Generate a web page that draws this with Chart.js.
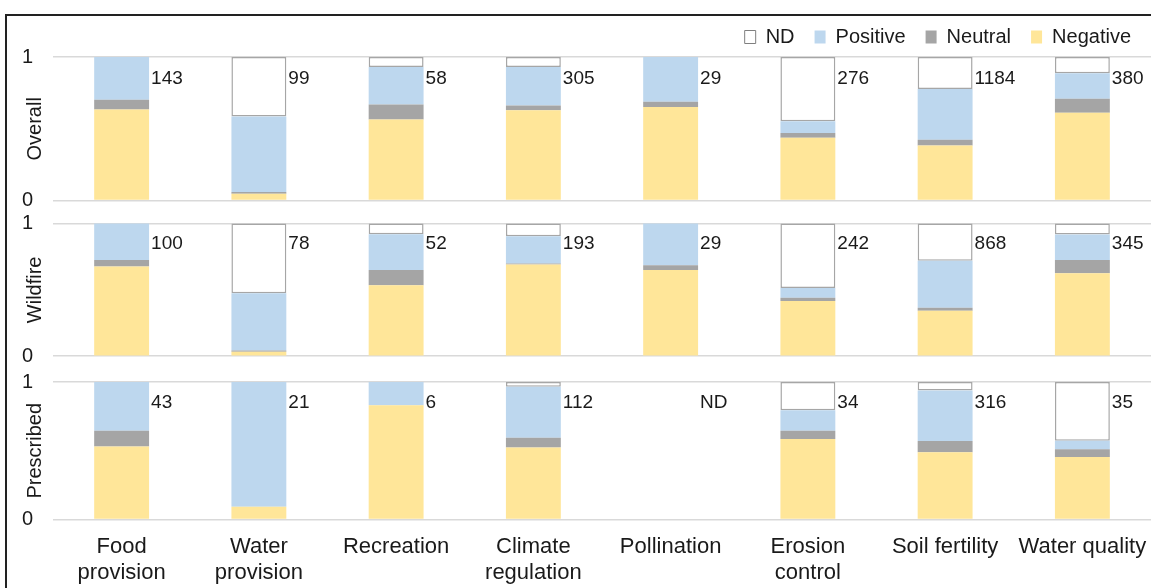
<!DOCTYPE html>
<html>
<head>
<meta charset="utf-8">
<script src="https://cdn.jsdelivr.net/npm/chart.js@4.4.1/dist/chart.umd.min.js"></script>
<style>
  html, body { margin: 0; padding: 0; background: #fff; overflow: hidden; }
  #frame { position: absolute; left: 5px; top: 14px; width: 1200px; height: 640px; border: 2px solid #222; }
  #wrap { position: absolute; left: 0; top: 0; width: 1151px; height: 588px; }
</style>
</head>
<body>
<div id="frame"></div>
<div id="wrap"><canvas id="chart"></canvas></div>
<script>
const categories = [['Food', 'provision'], ['Water', 'provision'], 'Recreation', ['Climate', 'regulation'],
  'Pollination', ['Erosion', 'control'], 'Soil fertility', 'Water quality'];

const seriesNames = ['Negative', 'Neutral', 'Positive', 'ND'];
const seriesColors = ['#FFE699', '#A5A5A5', '#BDD7EE', '#FFFFFF'];

// share of studies per category (0..1)
const overallNegative = [0.635, 0.047, 0.565, 0.630, 0.651, 0.437, 0.384, 0.612];
const overallNeutral  = [0.067, 0.013, 0.105, 0.033, 0.037, 0.033, 0.039, 0.097];
const overallPositive = [0.298, 0.526, 0.260, 0.267, 0.312, 0.083, 0.354, 0.177];
const overallND       = [0, 0.414, 0.070, 0.070, 0, 0.447, 0.223, 0.114];
const overallCounts   = ['143', '99', '58', '305', '29', '276', '1184', '380'];

const wildfireNegative = [0.675, 0.033, 0.534, 0.690, 0.650, 0.416, 0.343, 0.625];
const wildfireNeutral  = [0.050, 0.010, 0.116, 0.008, 0.035, 0.025, 0.022, 0.100];
const wildfirePositive = [0.275, 0.431, 0.269, 0.206, 0.315, 0.073, 0.355, 0.192];
const wildfireND       = [0, 0.526, 0.081, 0.096, 0, 0.486, 0.280, 0.083];
const wildfireCounts   = ['100', '78', '52', '193', '29', '242', '868', '345'];

const prescribedNegative = [0.532, 0.093, 0.832, 0.524, 0, 0.585, 0.490, 0.454];
const prescribedNeutral  = [0.114, 0, 0, 0.071, 0, 0.061, 0.081, 0.058];
const prescribedPositive = [0.354, 0.907, 0.168, 0.371, 0, 0.149, 0.368, 0.061];
const prescribedND       = [0, 0, 0, 0.034, 0, 0.205, 0.061, 0.427];
const prescribedCounts   = ['43', '21', '6', '112', 'ND', '34', '316', '35'];

const panels = [
  { axis: 'yO', title: 'Overall', values: [overallNegative, overallNeutral, overallPositive, overallND], counts: overallCounts },
  { axis: 'yW', title: 'Wildfire', values: [wildfireNegative, wildfireNeutral, wildfirePositive, wildfireND], counts: wildfireCounts },
  { axis: 'yP', title: 'Prescribed', values: [prescribedNegative, prescribedNeutral, prescribedPositive, prescribedND], counts: prescribedCounts }
];

const FONT = '"Liberation Sans", Arial, sans-serif';
const TEXT = '#1a1a1a';
Chart.defaults.font.family = FONT;
Chart.defaults.color = TEXT;

const datasets = [];
panels.forEach(p => {
  p.values.forEach((vals, k) => {
    datasets.push({
      label: seriesNames[k],
      data: vals,
      yAxisID: p.axis,
      backgroundColor: seriesColors[k],
      borderColor: '#a6a6a6',
      borderWidth: ctx => (k === 3 && ctx.raw > 0) ? 1.5 : 0,
      borderSkipped: false,
      categoryPercentage: 1,
      barPercentage: 0.4
    });
  });
});

function yAxis(max, stackWeight, weight) {
  return {
    type: 'linear', position: 'left', stack: 'panels', stackWeight: stackWeight, weight: weight,
    stacked: true, min: 0, max: max,
    afterBuildTicks: s => { s.ticks = [{ value: 0 }, { value: 1 }]; },
    afterFit: s => { s.width = 53; },
    grid: { color: '#d9d9d9', lineWidth: 1.5, drawTicks: false },
    border: { display: false },
    ticks: { padding: 20, color: TEXT, font: { size: 20 } }
  };
}

// n labels to the right of each bar
const countLabels = {
  id: 'countLabels',
  afterDatasetsDraw(chart) {
    const ctx = chart.ctx;
    ctx.save();
    ctx.font = '19px ' + FONT;
    ctx.fillStyle = TEXT;
    ctx.textBaseline = 'middle';
    ctx.textAlign = 'left';
    panels.forEach((p, pi) => {
      const meta = chart.getDatasetMeta(pi * 4);
      const scale = chart.scales[p.axis];
      p.counts.forEach((c, i) => {
        const bar = meta.data[i];
        ctx.fillText(c, bar.x + bar.width / 2 + 2, scale.getPixelForValue(0.85));
      });
    });
    ctx.restore();
  }
};

// rotated panel names
const panelTitles = {
  id: 'panelTitles',
  afterDraw(chart) {
    const ctx = chart.ctx;
    ctx.save();
    ctx.font = '20px ' + FONT;
    ctx.fillStyle = TEXT;
    ctx.textAlign = 'center';
    ctx.textBaseline = 'middle';
    panels.forEach(p => {
      const scale = chart.scales[p.axis];
      ctx.save();
      ctx.translate(35, scale.getPixelForValue(0.5));
      ctx.rotate(-Math.PI / 2);
      ctx.fillText(p.title, 0, 0);
      ctx.restore();
    });
    ctx.restore();
  }
};

new Chart(document.getElementById('chart'), {
  type: 'bar',
  data: { labels: categories, datasets: datasets },
  options: {
    responsive: true,
    maintainAspectRatio: false,
    animation: false,
    layout: { padding: { top: 7, bottom: 0, left: 0, right: 0 } },
    plugins: {
      tooltip: { enabled: false },
      legend: {
        position: 'top',
        align: 'end',
        maxHeight: 51,
        labels: {
          boxWidth: 11,
          boxHeight: 13,
          padding: 20,
          font: { size: 20 },
          color: TEXT,
          generateLabels: () => [3, 2, 1, 0].map(k => ({
            text: seriesNames[k],
            fillStyle: seriesColors[k],
            strokeStyle: k === 3 ? '#7f7f7f' : seriesColors[k],
            lineWidth: k === 3 ? 1 : 0,
            hidden: false,
            fontColor: TEXT,
            datasetIndex: k
          }))
        }
      }
    },
    scales: {
      x: {
        type: 'category',
        stacked: true,
        afterFit: s => { s.height = 68.5; s.paddingLeft = 0; s.paddingRight = 0; },
        grid: { display: false, drawTicks: false },
        border: { display: false },
        ticks: { padding: 14, color: TEXT, font: { size: 22 }, maxRotation: 0, autoSkip: false }
      },
      yP: yAxis(1.188, 162.8, 1),
      yW: yAxis(1.172, 155.2, 2),
      yO: yAxis(1, 143.2, 3)
    }
  },
  plugins: [countLabels, panelTitles]
});
</script>
</body>
</html>
